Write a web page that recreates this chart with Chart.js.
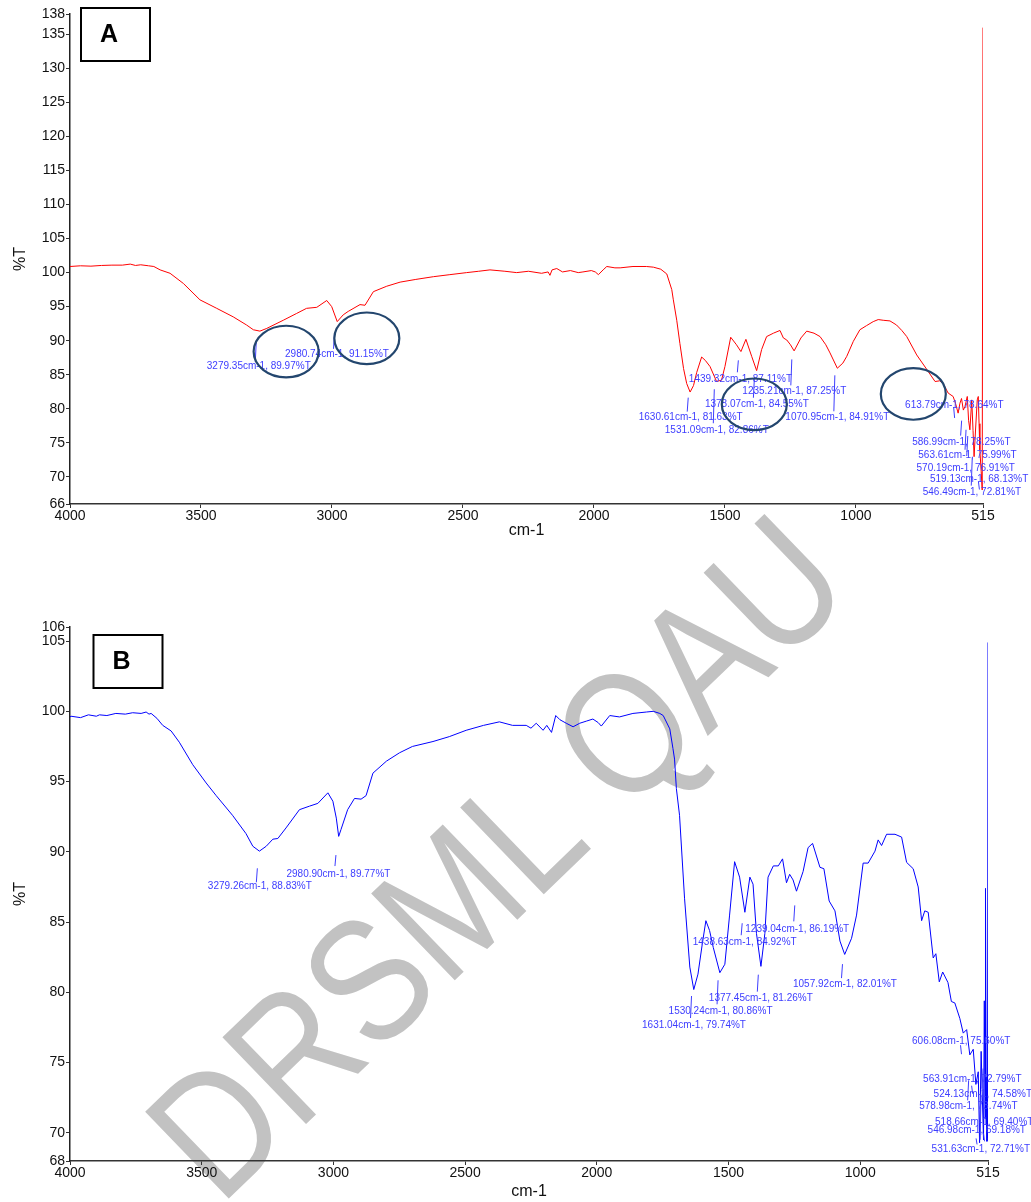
<!DOCTYPE html>
<html>
<head>
<meta charset="utf-8">
<script src="https://cdn.jsdelivr.net/npm/chart.js@4.4.1/dist/chart.umd.min.js"></script>
<style>
  html, body { margin: 0; padding: 0; background: #fff; }
  #page { position: relative; width: 1031px; height: 1202px; overflow: hidden; }
  canvas { position: absolute; left: 0; }
  #wm { top: 0; z-index: 0; }
  #chartA { top: 0; z-index: 1; }
  #chartB { top: 600px; z-index: 1; }
</style>
</head>
<body>
<div id="page">
  <canvas id="wm" width="1031" height="1202"></canvas>
  <canvas id="chartA" width="1031" height="545"></canvas>
  <canvas id="chartB" width="1031" height="602"></canvas>
</div>
<script>
const xTicks = [4000, 3500, 3000, 2500, 2000, 1500, 1000, 515];
const yTicksA = [66, 70, 75, 80, 85, 90, 95, 100, 105, 110, 115, 120, 125, 130, 135, 138];
const yTicksB = [68, 70, 75, 80, 85, 90, 95, 100, 105, 106];

// spectrum A (red)
const wavenumberA = [
  4000, 3960, 3920, 3880, 3840, 3800, 3770, 3750, 3730, 3700, 3680, 3656, 3618, 3567, 3504, 3440,
  3377, 3326, 3300, 3275, 3249, 3186, 3135, 3097, 3058, 3020, 3001, 2980, 2957, 2938, 2893, 2874,
  2842, 2791, 2740, 2680, 2613, 2550, 2486, 2440, 2397, 2340, 2295, 2250, 2200, 2175, 2168, 2160,
  2142, 2120, 2090, 2060, 2042, 2010, 1995, 1983, 1965, 1951, 1920, 1900, 1851, 1800, 1773, 1745,
  1722, 1703, 1697, 1684, 1672, 1658, 1646, 1633, 1620, 1608, 1589, 1575, 1557, 1532, 1513, 1500,
  1478, 1456, 1439, 1420, 1398, 1379, 1360, 1341, 1315, 1290, 1277, 1264, 1250, 1236, 1210, 1188,
  1160, 1137, 1115, 1099, 1071, 1050, 1035, 1010, 985, 960, 934, 915, 896, 870, 845, 825,
  806, 768, 730, 698, 680, 667, 648, 629, 620, 610, 603, 597, 590, 584, 575, 570,
  565, 558, 553, 549, 542, 537, 533, 530, 527, 522, 518, 515
];
const transmittanceA = [
  100.9, 101.0, 100.95, 101.05, 101.1, 101.1, 101.25, 101.05, 101.15, 101.0, 100.9, 100.4, 99.9, 98.4, 96.0, 94.75,
  93.5, 92.3, 91.6, 91.4, 91.8, 93.0, 94.0, 94.75, 94.9, 95.9, 95.0, 92.8, 93.8, 94.3, 95.3, 95.2,
  97.2, 98.0, 98.6, 99.0, 99.4, 99.7, 100.0, 100.2, 100.4, 100.2, 100.0, 100.2, 99.9, 100.1, 99.6, 100.4,
  100.6, 100.1, 100.3, 100.0, 100.1, 100.3, 100.1, 99.7, 100.4, 100.9, 100.7, 100.7, 100.9, 100.9, 100.8, 100.5,
  99.8, 97.5, 96.0, 93.0, 89.6, 85.9, 83.7, 82.45, 83.4, 85.3, 87.6, 87.1, 86.2, 84.0, 84.2, 86.2,
  90.5, 89.4, 88.4, 90.2, 87.7, 85.6, 88.7, 90.6, 91.1, 91.5, 90.4, 90.1, 89.4, 88.5, 90.4, 91.4,
  91.1, 90.6, 89.4, 88.2, 85.95, 86.7, 87.7, 89.9, 91.6, 92.2, 92.8, 93.1, 93.0, 92.9, 92.3, 91.5,
  90.6, 87.9, 85.8, 84.0, 84.1, 83.7, 82.3, 81.8, 80.8, 79.35, 80.8, 81.5, 79.8, 80.3, 81.8, 78.3,
  76.9, 81.3, 76.8, 72.95, 77.9, 81.3, 81.8, 77.8, 73.95, 70.8, 68.06, 136.0
];

// spectrum B (blue)
const wavenumberB = [
  4000, 3996, 3960, 3930, 3900, 3888, 3860, 3826, 3790, 3762, 3730, 3711, 3700, 3692, 3670, 3648,
  3616, 3585, 3534, 3483, 3445, 3383, 3332, 3306, 3281, 3255, 3230, 3211, 3180, 3129, 3091, 3059,
  3021, 3002, 2989, 2980, 2971, 2946, 2920, 2895, 2876, 2850, 2799, 2749, 2700, 2622, 2560, 2496,
  2430, 2370, 2320, 2268, 2250, 2230, 2204, 2190, 2172, 2156, 2140, 2116, 2090, 2065, 2040, 2015,
  1995, 1983, 1951, 1914, 1863, 1812, 1786, 1761, 1748, 1723, 1711, 1705, 1698, 1686, 1667, 1647,
  1632, 1616, 1600, 1586, 1572, 1558, 1533, 1514, 1496, 1477, 1458, 1438, 1419, 1407, 1394, 1377,
  1362, 1350, 1330, 1311, 1295, 1280, 1268, 1255, 1242, 1217, 1198, 1181, 1153, 1138, 1118, 1096,
  1077, 1059, 1033, 1014, 989, 970, 944, 932, 919, 900, 868, 843, 824, 799, 780, 767,
  755, 742, 723, 713, 700, 687, 667, 654, 641, 622, 609, 596, 584, 571, 561, 552,
  547, 541, 536, 532, 529, 526, 524.5, 522, 519, 517, 515
];
const transmittanceB = [
  99.6, 99.65, 99.55, 99.75, 99.65, 99.75, 99.7, 99.85, 99.8, 99.9, 99.85, 99.95, 99.8, 99.85, 99.5, 99.0,
  98.6, 97.8, 96.2, 94.9, 94.0, 92.6, 91.3, 90.4, 90.05, 90.4, 90.9, 90.95, 91.7, 93.0, 93.25, 93.45,
  94.2, 93.6, 92.4, 91.1, 91.6, 93.0, 93.8, 93.75, 94.0, 95.6, 96.45, 97.05, 97.5, 97.85, 98.2, 98.65,
  99.0, 99.25, 99.0, 99.0, 98.8, 99.15, 98.65, 99.0, 98.5, 99.7, 99.4, 99.15, 98.9, 99.15, 99.3, 99.45,
  99.2, 98.95, 99.7, 99.6, 99.85, 99.95, 100.0, 99.85, 99.7, 98.75, 97.35, 96.6, 94.5, 92.6, 86.7, 81.8,
  80.2, 81.3, 83.4, 85.1, 84.4, 83.2, 81.4, 82.0, 85.5, 89.3, 88.2, 85.7, 88.2, 87.7, 84.2, 81.85,
  84.2, 88.2, 89.0, 89.0, 89.5, 87.8, 88.4, 88.0, 87.2, 88.6, 90.3, 90.6, 88.9, 88.8, 86.5, 85.8,
  83.65, 82.7, 83.85, 85.5, 89.2, 89.2, 90.05, 90.85, 90.45, 91.25, 91.25, 91.05, 89.25, 88.8, 87.5, 85.1,
  85.8, 85.7, 82.45, 82.75, 80.75, 81.45, 80.7, 79.35, 79.25, 78.15, 77.1, 77.35, 75.55, 75.95, 73.45, 74.35,
  69.3, 75.8, 72.2, 69.5, 79.4, 71.0, 87.4, 74.0, 69.4, 69.6, 104.9
];

// picked peaks, as printed by the instrument
const peakWnA = [3279.35, 2980.74, 1630.61, 1531.09, 1439.32, 1378.07, 1235.21, 1070.95, 613.79, 586.99, 563.61, 570.19, 519.13, 546.49];
const peakTA = [89.97, 91.15, 81.63, 82.86, 87.11, 84.55, 87.25, 84.91, 78.64, 78.25, 75.99, 76.91, 68.13, 72.81];
const peakWnB = [3279.26, 2980.90, 1631.04, 1530.24, 1438.63, 1377.45, 1239.04, 1057.92, 606.08, 578.98, 563.91, 546.98, 531.63, 524.13, 518.66];
const peakTB = [88.83, 89.77, 79.74, 80.86, 84.92, 81.26, 86.19, 82.01, 75.60, 73.74, 72.79, 69.18, 72.71, 74.58, 69.40];

// circled regions on spectrum A
const circleWnA = [3175, 2867, 1388, 781];
const circleTA = [88.4, 90.35, 80.65, 82.17];

// label layout: text offset below the peak value and length of the marker (px)
const labelDyA = [25.6, 21.4, 19.2, 41, 18.6, 26, 32.3, 41.8, -13, 21.9, 18.8, 38.4, -10.7, 35];
const markLenA = [21, 16, 14, 34, 12, 20, 26, 36, -11, 15, 20, 20, -8, 28];
const labelDyB = [18, 18.7, 29, 31, 19.2, 23.2, 24, 20.5, -12.5, 26.4, -14, -14.3, 54, 25.7, -19.5];
const markLenB = [14, 11, 22, 24, 12, 17, 16, 14, -9, 20, -8, -6, 45, 20, -8];

const FONT = '"Liberation Sans", Arial, sans-serif';
const LABEL_BLUE = '#3d3dff';

function peakPlugin(wns, ts, dys, lens, circles, panel) {
    return {
        id: 'peaks' + panel.text,
        afterDatasetsDraw(chart) {
            const { ctx, chartArea, scales: { x, y } } = chart;
            ctx.save();
            ctx.strokeStyle = LABEL_BLUE;
            ctx.fillStyle = LABEL_BLUE;
            ctx.lineWidth = 1;
            ctx.font = '10px ' + FONT;
            ctx.textBaseline = 'middle';
            wns.forEach((w, i) => {
                const px = x.getPixelForValue(w);
                const py = y.getPixelForValue(ts[i]);
                ctx.beginPath();
                ctx.moveTo(px - 2.5, py);
                ctx.lineTo(px - 3.5, py + lens[i]);
                ctx.stroke();
                ctx.fillText(w.toFixed(2) + 'cm-1, ' + ts[i].toFixed(2) + '%T', px - 52, py + dys[i]);
            });

            if (circles) {
                ctx.strokeStyle = '#23466e';
                ctx.lineWidth = 2.2;
                circles.wn.forEach((w, i) => {
                    ctx.beginPath();
                    ctx.ellipse(x.getPixelForValue(w), y.getPixelForValue(circles.t[i]), 32.5, 25.8, 0, 0, Math.PI * 2);
                    ctx.stroke();
                });
            }

            // panel letter box
            const bx = chartArea.left + panel.dx;
            const by = chartArea.top + panel.dy;
            ctx.fillStyle = '#fff';
            ctx.fillRect(bx, by, 69, 53);
            ctx.strokeStyle = '#000';
            ctx.lineWidth = 2;
            ctx.strokeRect(bx, by, 69, 53);
            ctx.fillStyle = '#000';
            ctx.font = 'bold 25px ' + FONT;
            ctx.textAlign = 'center';
            ctx.fillText(panel.text, bx + 28, by + 27);
            ctx.restore();
        }
    };
}

function makeSpectrum(id, wns, ts, color, yTicks, yMin, yMax, pad, titlePad, plugin) {
    const points = wns.map((w, i) => ({ x: w, y: ts[i] }));
    return new Chart(document.getElementById(id), {
        type: 'line',
        data: {
            datasets: [{
                data: points,
                borderColor: color,
                borderWidth: 1,
                pointRadius: 0,
                tension: 0,
                fill: false
            }]
        },
        options: {
            responsive: false,
            animation: false,
            layout: { padding: pad },
            plugins: { legend: { display: false }, tooltip: { enabled: false } },
            scales: {
                x: {
                    type: 'linear',
                    reverse: true,
                    min: 515,
                    max: 4000,
                    afterBuildTicks: axis => { axis.ticks = xTicks.map(v => ({ value: v })); },
                    afterFit: scale => { scale.height = 41; },
                    ticks: { autoSkip: false, maxRotation: 0, padding: 0, color: '#111', font: { family: FONT, size: 14 }, callback: v => String(v) },
                    grid: { drawOnChartArea: false, tickLength: 4, color: '#333' },
                    border: { color: '#333', width: 1.5 },
                    title: { display: true, text: 'cm-1', color: '#111', font: { family: FONT, size: 16 }, padding: { top: 0, bottom: titlePad } }
                },
                y: {
                    type: 'linear',
                    min: yMin,
                    max: yMax,
                    afterBuildTicks: axis => { axis.ticks = yTicks.map(v => ({ value: v })); },
                    afterFit: scale => { scale.width = 70; },
                    ticks: { autoSkip: false, padding: 1, color: '#111', font: { family: FONT, size: 14 }, callback: v => String(v) },
                    grid: { drawOnChartArea: false, tickLength: 4, color: '#333' },
                    border: { color: '#222', width: 1.5 },
                    title: { display: true, text: '%T', color: '#111', font: { family: FONT, size: 16 }, padding: { top: 11, bottom: 0 } }
                }
            }
        },
        plugins: [plugin]
    });
}

// watermark behind both spectra
(function drawWatermark() {
    const ctx = document.getElementById('wm').getContext('2d');
    ctx.save();
    ctx.translate(220, 1207);
    ctx.rotate(-44 * Math.PI / 180);
    ctx.scale(0.85, 1);
    ctx.fillStyle = '#c2c2c2';
    ctx.font = '175px ' + FONT;
    ctx.textBaseline = 'alphabetic';
    ctx.fillText('DRSML QAU', 0, 0);
    ctx.restore();
})();

makeSpectrum('chartA', wavenumberA, transmittanceA, '#ff0000', yTicksA, 66, 138,
    { top: 14, right: 48, bottom: 0, left: 0 }, 5,
    peakPlugin(peakWnA, peakTA, labelDyA, markLenA, { wn: circleWnA, t: circleTA }, { text: 'A', dx: 11, dy: -6 }));

makeSpectrum('chartB', wavenumberB, transmittanceB, '#0000ff', yTicksB, 68, 106,
    { top: 27, right: 43, bottom: 0, left: 0 }, 1,
    peakPlugin(peakWnB, peakTB, labelDyB, markLenB, null, { text: 'B', dx: 23.5, dy: 8 }));
</script>
</body>
</html>
